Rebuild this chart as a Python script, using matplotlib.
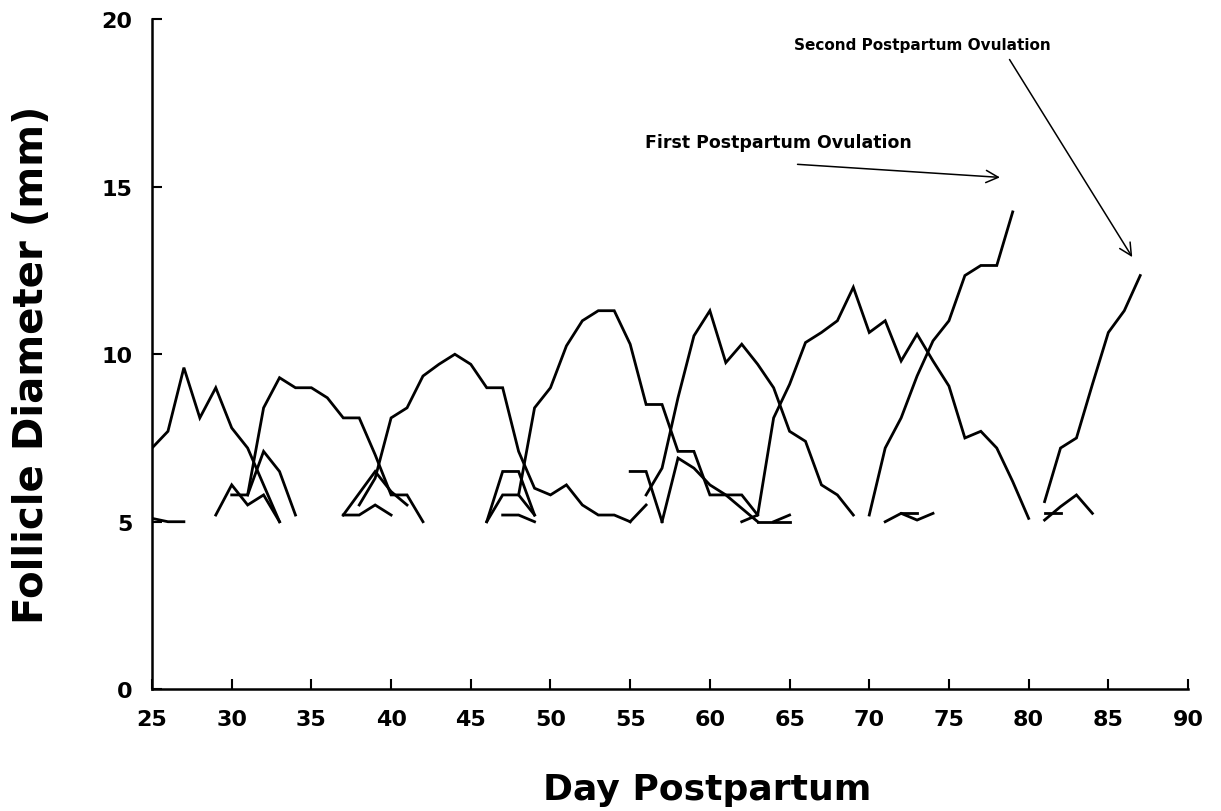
import numpy as np
import matplotlib
matplotlib.use("Agg")
from matplotlib import pyplot as plt

# follicle diameters (mm), one list per follicle, first value on the given day
w1_start, w1 = 25, [7.2, 7.7, 9.6, 8.1, 9.0, 7.8, 7.2, 6.1, 5.0]
w2_start, w2 = 30, [5.8, 5.8, 8.4, 9.3, 9.0, 9.0, 8.7, 8.1, 8.1, 7.0, 5.8, 5.8, 5.0]
w3_start, w3 = 38, [5.5, 6.3, 8.1, 8.4, 9.35, 9.7, 10.0, 9.7, 9.0, 9.0, 7.1, 6.0,
                    5.8, 6.1, 5.5, 5.2, 5.2, 5.0]
w4_start, w4 = 48, [5.8, 8.4, 9.0, 10.25, 11.0, 11.3, 11.3, 10.3, 8.5, 8.5, 7.1, 7.1,
                    5.8, 5.8, 5.8, 5.2]
w5_start, w5 = 56, [5.8, 6.6, 8.7, 10.55, 11.3, 9.75, 10.3, 9.7, 9.0, 7.7, 7.4, 6.1, 5.8, 5.2]
w6_start, w6 = 62, [5.0, 5.2, 8.1, 9.1, 10.35, 10.65, 11.0, 12.0, 10.65, 11.0, 9.8, 10.6,
                    9.8, 9.05, 7.5, 7.7, 7.2, 6.2, 5.1]
w7_start, w7 = 70, [5.2, 7.2, 8.1, 9.35, 10.4, 11.0, 12.35, 12.65, 12.65, 14.25]
w8_start, w8 = 81, [5.6, 7.2, 7.5, 9.1, 10.65, 11.3, 12.35]

# small follicles
sa_start, sa = 25, [5.1, 5.0, 5.0]
sb_start, sb = 29, [5.2, 6.1, 5.5, 5.8, 5.0]
sc_start, sc = 31, [5.8, 7.1, 6.5, 5.2]
sd_start, sd = 37, [5.2, 5.2, 5.5, 5.2]
se_start, se = 37, [5.2, 5.85, 6.5, 5.9, 5.5]
sf_start, sf = 46, [5.0, 6.5, 6.5, 5.2]
sg_start, sg = 46, [5.0, 5.8, 5.8, 5.2]
sh_start, sh = 47, [5.2, 5.2, 5.0]
si_start, si = 55, [6.5, 6.5, 5.0]
sj_start, sj = 55, [5.0, 5.5]
sk_start, sk = 57, [5.0, 6.9, 6.6, 6.1, 5.8, 5.4, 5.0]
sl_start, sl = 63, [5.0, 5.0, 5.0]
sm_start, sm = 64, [5.0, 5.2]
sn_start, sn = 71, [5.0, 5.25, 5.05, 5.25]
so_start, so = 72, [5.25, 5.25]
sp_start, sp = 81, [5.25, 5.25]
sq_start, sq = 81, [5.05, 5.45, 5.8, 5.25]

follicles = [(w1_start, w1), (w2_start, w2), (w3_start, w3), (w4_start, w4),
             (w5_start, w5), (w6_start, w6), (w7_start, w7), (w8_start, w8),
             (sa_start, sa), (sb_start, sb), (sc_start, sc), (sd_start, sd),
             (se_start, se), (sf_start, sf), (sg_start, sg), (sh_start, sh),
             (si_start, si), (sj_start, sj), (sk_start, sk), (sl_start, sl),
             (sm_start, sm), (sn_start, sn), (so_start, so), (sp_start, sp),
             (sq_start, sq)]

xticks = list(range(25, 95, 5))
yticks = [0, 5, 10, 15, 20]

plt.rcParams['font.family'] = ['DejaVu Sans']
fig = plt.figure(figsize=(12.21, 8.12), dpi=100)
ax = fig.add_axes([0.1245, 0.150, 0.8485, 0.825])

for start, vals in follicles:
    days = np.arange(start, start + len(vals))
    ax.plot(days, vals, color='black', lw=2.0, solid_joinstyle='miter')

ax.set_xlim(25, 90)
ax.set_ylim(0, 20)
ax.set_xticks(xticks)
ax.set_yticks(yticks)
ax.tick_params(direction='in', length=7, width=1.5, labelsize=16, pad=14)
for lab in ax.get_xticklabels() + ax.get_yticklabels():
    lab.set_fontweight('bold')
for s in ['top', 'right']:
    ax.spines[s].set_visible(False)
for s in ['left', 'bottom']:
    ax.spines[s].set_linewidth(1.8)

ax.set_xlabel('Day Postpartum', fontsize=26, fontweight='bold')
ax.xaxis.label.set_va('center')
ax.xaxis.set_label_coords(0.536, -0.149)
ax.set_ylabel('Follicle Diameter (mm)', fontsize=29, fontweight='bold')
ax.yaxis.label.set_va('center')
ax.yaxis.set_label_coords(-0.116, 0.485)

# ovulation arrows
ax.annotate('', xy=(78.2, 15.28), xytext=(65.5, 15.67),
            arrowprops=dict(arrowstyle='->', color='black', lw=1.1,
                            mutation_scale=22, shrinkA=0, shrinkB=0))
ax.text(55.9, 16.33, 'First Postpartum Ovulation', fontsize=12.5,
        fontweight='bold', va='center', ha='left')
ax.annotate('', xy=(86.5, 12.9), xytext=(78.8, 18.8),
            arrowprops=dict(arrowstyle='->', color='black', lw=1.1,
                            mutation_scale=22, shrinkA=0, shrinkB=0))
ax.text(65.3, 19.25, 'Second Postpartum Ovulation', fontsize=11,
        fontweight='bold', va='center', ha='left')

fig.savefig('out.png', dpi=100)
